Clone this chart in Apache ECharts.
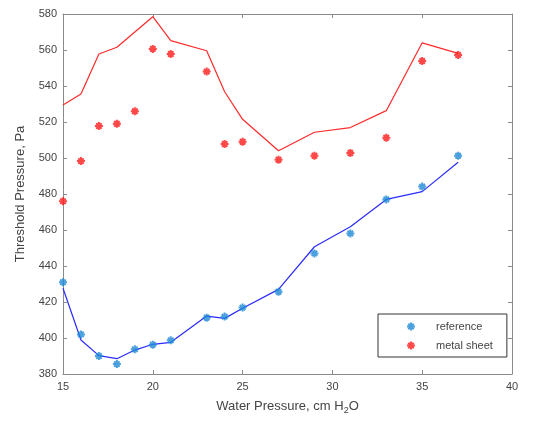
<!DOCTYPE html>
<html><head><meta charset="utf-8">
<script src="https://cdn.jsdelivr.net/npm/echarts@6/dist/echarts.min.js"></script>
<style>html,body{margin:0;padding:0;background:#fff}#c{width:537px;height:423px}</style>
</head><body><div id="c"></div>
<script>
const waterPressure = [15,16,17,18,19,20,21,23,24,25,27,29,31,33,35,37];
const referencePoints = [431,402,390,385.5,393.7,396.3,398.7,411.3,411.9,416.9,425.7,447,458.1,477,484.1,501.3];
const referenceLine = [427.6,398.9,390.2,388.5,393.3,396.5,397.6,412.2,410.9,416.5,427,450.7,461.8,477,481.3,497.6];
const metalPoints = [476,498.3,517.8,519,526,560.6,557.8,548,507.8,509,499,501.3,502.8,511.3,553.9,557.2];
const metalLine = [529.4,535.6,557.8,561.5,570,578.5,565.2,559.6,536.8,521.5,504,514.3,516.9,526.3,564,558.1];
const xTicks = [15,20,25,30,35,40];
const yTicks = [380,400,420,440,460,480,500,520,540,560,580];

const star = 'path://M5,0 L5,10 M0,5 L10,5 M1.6,1.6 L8.4,8.4 M1.6,8.4 L8.4,1.6';
const blue = '#1e88d6', red = '#ff1a1a';
const font = 'Liberation Sans, Arial, sans-serif';
const txt = '#444';
const pair = (xs, ys) => xs.map((x, i) => [x, ys[i]]);

const axCommon = {
  axisLine: {show: true, lineStyle: {color: '#8a8a8a', width: 1}},
  axisTick: {show: true, inside: true, length: 4, lineStyle: {color: '#8a8a8a'}},
  splitLine: {show: false}
};

const chart = echarts.init(document.getElementById('c'));
chart.setOption({
  animation: false,
  grid: {left: 63, right: 25, top: 14, bottom: 49},
  xAxis: [
    Object.assign({type: 'value', min: xTicks[0], max: xTicks[xTicks.length-1], interval: 5, position: 'bottom',
      axisLabel: {color: txt, fontFamily: font, fontSize: 11, margin: 7},
      name: '{a|Water Pressure, cm H}{s|2}{a|O}', nameLocation: 'middle', nameGap: 24,
      nameTextStyle: {rich: {a: {color: txt, fontFamily: font, fontSize: 13}, s: {color: txt, fontFamily: font, fontSize: 9, padding: [8,0,0,0]}}}
    }, axCommon),
    Object.assign({type: 'value', min: xTicks[0], max: xTicks[xTicks.length-1], interval: 5, position: 'top',
      axisLabel: {show: false}}, axCommon)
  ],
  yAxis: [
    Object.assign({type: 'value', min: yTicks[0], max: yTicks[yTicks.length-1], interval: 20, position: 'left',
      axisLabel: {color: txt, fontFamily: font, fontSize: 11, margin: 6},
      name: 'Threshold Pressure, Pa', nameLocation: 'middle', nameGap: 36,
      nameTextStyle: {color: txt, fontFamily: font, fontSize: 13}
    }, axCommon),
    Object.assign({type: 'value', min: yTicks[0], max: yTicks[yTicks.length-1], interval: 20, position: 'right',
      axisLabel: {show: false}}, axCommon)
  ],
  legend: {
    orient: 'vertical', left: 378, top: 314, itemWidth: 24, itemHeight: 8, itemGap: 8,
    padding: [7, 14, 6, 28],
    borderColor: '#333', borderWidth: 1, backgroundColor: '#fff',
    textStyle: {color: txt, fontFamily: font, fontSize: 11, padding: [0,0,0,8]},
    data: [
      {name: 'reference', icon: star, itemStyle: {color: 'rgba(0,0,0,0)', borderColor: blue, borderWidth: 2}},
      {name: 'metal sheet', icon: star, itemStyle: {color: 'rgba(0,0,0,0)', borderColor: red, borderWidth: 2}}
    ]
  },
  series: [
    {name: 'reference fit', type: 'line', data: pair(waterPressure, referenceLine), showSymbol: false, symbol: 'none',
      lineStyle: {color: '#2b2bff', width: 1.2}, z: 2},
    {name: 'metal sheet fit', type: 'line', data: pair(waterPressure, metalLine), showSymbol: false, symbol: 'none',
      lineStyle: {color: '#ff2a2a', width: 1.2}, z: 2},
    {name: 'reference', type: 'scatter', data: pair(waterPressure, referencePoints), symbol: star, symbolSize: 8,
      itemStyle: {color: 'rgba(0,0,0,0)', borderColor: blue, borderWidth: 2}, z: 3},
    {name: 'metal sheet', type: 'scatter', data: pair(waterPressure, metalPoints), symbol: star, symbolSize: 8,
      itemStyle: {color: 'rgba(0,0,0,0)', borderColor: red, borderWidth: 2}, z: 3}
  ]
});
</script></body></html>
